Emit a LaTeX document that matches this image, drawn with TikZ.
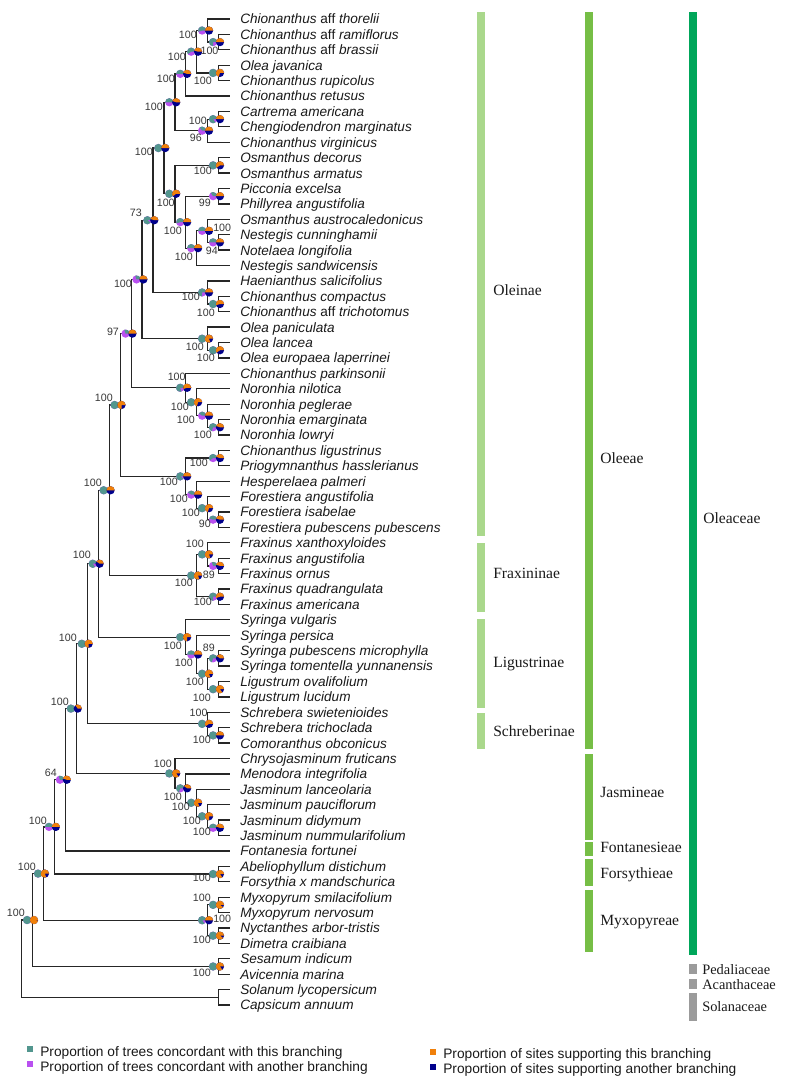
\documentclass[tikz,border=0pt]{standalone}
\usepackage{fontspec}
\setmainfont{Liberation Serif}
\setsansfont{Liberation Sans}
\usetikzlibrary{positioning,calc,backgrounds}

\definecolor{conc}{RGB}{82,150,142}
\definecolor{disc}{RGB}{185,80,240}
\definecolor{site}{RGB}{240,128,10}
\definecolor{nosite}{RGB}{0,0,140}
\definecolor{subtribegreen}{RGB}{170,216,140}
\definecolor{tribegreen}{RGB}{118,190,70}
\definecolor{famgreen}{RGB}{0,166,90}
\definecolor{outgroupgrey}{RGB}{155,155,155}

% one pie: centre, share of first colour, first colour, second colour
\newcommand{\suppie}[4]{%
  \fill[#4] (#1) circle[radius=3.1pt];
  \fill[#3] (#1) -- ++(0:3.1pt) arc[start angle=0, end angle={360*#2}, radius=3.1pt] -- cycle;}
% node name, height, child, child
\newcommand{\cladejoin}[4]{%
  \path let \p1=(#3), \p2=(#4) in coordinate (#1) at ({(229.6-10.94*#2)*0.75pt}, {0.5*(\y1+\y2)});
  \begin{scope}[on background layer]
    \draw[branch] (#1) |- (#3);
    \draw[branch] (#1) |- (#4);
  \end{scope}}
% node name, height, child, child, trees, sites, support, label offset, label options
\newcommand{\clade}[9]{%
  \cladejoin{#1}{#2}{#3}{#4}
  \suppie{$(#1)+(-5.6,0)$}{#5}{conc}{disc}
  \suppie{$(#1)+(1.3,0)$}{#6}{site}{nosite}
  \node[support,#9] (#1l) at ($(#1)+(#8)$) {#7};}
\newcommand{\cladebar}[4]{\fill[#4] (#1,#2) rectangle ({#1+7.5},#3);}

\begin{document}
\begin{tikzpicture}[x=0.75pt, y=-0.75pt,
    branch/.style={line width=0.95pt, draw=black!85},
    tip/.style={anchor=west, inner xsep=7.8pt, inner ysep=0pt, text height=9pt, text depth=1.6pt, font=\sffamily\itshape\fontsize{10.2}{12}\selectfont, text=black!90},
    support/.style={anchor=east, inner sep=0pt, text height=5.7pt, text depth=0pt, font=\sffamily\fontsize{8}{9.5}\selectfont, text=black!78},
    cladelab/.style={anchor=west, inner sep=0pt, text height=7.7pt, text depth=0pt, font=\fontsize{11.7}{14}\selectfont, text=black!90},
    famlab/.style={cladelab, text height=7.1pt, font=\fontsize{10.8}{13}\selectfont},
    legbox/.style={minimum size=5pt, inner sep=0pt},
    legtext/.style={inner sep=0pt, text height=7.4pt, text depth=0pt, font=\sffamily\fontsize{10.3}{12}\selectfont, text=black!90}]
  \useasboundingbox (0,0) rectangle (785,1083);

  % tips
  \foreach \nm [count=\i] in {Chionanthus \textup{aff} thorelii, Chionanthus \textup{aff} ramiflorus,
      Chionanthus \textup{aff} brassii, Olea javanica, Chionanthus rupicolus, Chionanthus retusus,
      Cartrema americana, Chengiodendron marginatus, Chionanthus virginicus, Osmanthus decorus,
      Osmanthus armatus, Picconia excelsa, Phillyrea angustifolia, Osmanthus austrocaledonicus,
      Nestegis cunninghamii, Notelaea longifolia, Nestegis sandwicensis, Haenianthus salicifolius,
      Chionanthus compactus, Chionanthus \textup{aff} trichotomus, Olea paniculata, Olea lancea,
      Olea europaea laperrinei, Chionanthus parkinsonii, Noronhia nilotica, Noronhia peglerae,
      Noronhia emarginata, Noronhia lowryi, Chionanthus ligustrinus, Priogymnanthus hasslerianus,
      Hesperelaea palmeri, Forestiera angustifolia, Forestiera isabelae, Forestiera pubescens pubescens,
      Fraxinus xanthoxyloides, Fraxinus angustifolia, Fraxinus ornus, Fraxinus quadrangulata,
      Fraxinus americana, Syringa vulgaris, Syringa persica, Syringa pubescens microphylla,
      Syringa tomentella yunnanensis, Ligustrum ovalifolium, Ligustrum lucidum, Schrebera swietenioides,
      Schrebera trichoclada, Comoranthus obconicus, Chrysojasminum fruticans, Menodora integrifolia,
      Jasminum lanceolaria, Jasminum pauciflorum, Jasminum didymum, Jasminum nummularifolium,
      Fontanesia fortunei, Abeliophyllum distichum, Forsythia x mandschurica, Myxopyrum smilacifolium,
      Myxopyrum nervosum, Nyctanthes arbor-tristis, Dimetra craibiana, Sesamum indicum,
      Avicennia marina, Solanum lycopersicum, Capsicum annuum}
    \node[tip] (t\i) at (229.6,{19+15.406*(\i-1)}) {\nm};

  % Oleinae
  \clade{a1}{1}{t2}{t3}{.75}{.5}{100}{0,9}{}
  \clade{a2}{2}{t1}{a1}{.55}{.5}{100}{-10.7,4.4}{}
  \clade{a3}{1}{t4}{t5}{1}{.7}{100}{-6.7,8}{}
  \clade{a4}{3}{a2}{a3}{.6}{.45}{100}{-10.8,5.3}{}
  \clade{a5}{4}{a4}{t6}{.5}{.45}{100}{-10.8,5}{}
  \clade{a6}{1}{t7}{t8}{.85}{.5}{100}{-11.7,1.5}{}
  \clade{a7}{2}{a6}{t9}{.35}{.5}{96}{-5.7,7.4}{}
  \clade{a8}{5}{a5}{a7}{.5}{.45}{100}{-11.9,4.7}{}
  \clade{a9}{1}{t10}{t11}{1}{.6}{100}{-6.7,5.6}{}
  \clade{a10}{1}{t12}{t13}{.35}{.5}{99}{-7.7,6.8}{}
  \clade{a11}{1}{t15}{t16}{.5}{.5}{94}{-0.7,8.6}{}
  \clade{a12}{2}{t14}{a11}{.5}{.5}{100}{5.3,-2.9}{anchor=west}
  \clade{a13}{3}{a12}{t17}{.5}{.5}{100}{-3.8,8.8}{}
  \clade{a14}{4}{a10}{a13}{.55}{.5}{100}{-3.8,8.8}{}
  \clade{a15}{5}{a9}{a14}{1}{.6}{100}{0,9.2}{}
  \clade{a16}{6}{a8}{a15}{1}{.5}{100}{-11,4}{}
  \clade{a17}{1}{t19}{t20}{1}{.55}{100}{-3.7,9}{}
  \clade{a18}{2}{t18}{a17}{.75}{.5}{100}{-7.7,4.6}{}
  \clade{a19}{7}{a16}{a18}{.9}{.45}{73}{-11,-7.3}{}
  \clade{a20}{1}{t22}{t23}{1}{.6}{100}{-3.7,7.8}{}
  \clade{a21}{2}{t21}{a20}{1}{.8}{100}{-3.7,8.3}{}
  \clade{a22}{8}{a19}{a21}{.3}{.5}{100}{-10,4.5}{}
  \clade{a23}{1}{t27}{t28}{.7}{.45}{100}{-6.7,7.7}{}
  \clade{a24}{2}{t26}{a23}{.4}{.5}{100}{-12.7,4.3}{}
  \clade{a25}{3}{t25}{a24}{1}{.7}{100}{-7.8,4.8}{}
  \clade{a26}{4}{t24}{a25}{.8}{.55}{100}{0,-10.7}{}
  \clade{a27}{9}{a22}{a26}{.3}{.5}{97}{-12,-1.6}{}
  \clade{a28}{1}{t29}{t30}{.6}{.45}{100}{-10.7,4.9}{}
  \clade{a29}{1}{t33}{t34}{.45}{.45}{90}{-7.7,4.3}{}
  \clade{a30}{2}{t32}{a29}{1}{.7}{100}{-7.7,4.9}{}
  \clade{a31}{3}{t31}{a30}{.4}{.5}{100}{-8.8,4.3}{}
  \clade{a32}{4}{a28}{a31}{.9}{.5}{100}{-7.8,5.6}{}
  \clade{a33}{10}{a27}{a32}{1}{.75}{100}{-7.2,-7}{}
  % Fraxininae
  \clade{a34}{1}{t36}{t37}{.3}{.45}{89}{-3.7,9.1}{}
  \clade{a35}{2}{t35}{a34}{1}{.8}{100}{-3.7,-10.4}{}
  \clade{a36}{1}{t38}{t39}{.75}{.55}{100}{-6.7,5.3}{}
  \clade{a37}{3}{a35}{a36}{1}{.8}{100}{-3.8,7.5}{}
  \clade{a38}{11}{a33}{a37}{1}{.5}{100}{-7.3,-7.3}{}
  % Ligustrinae
  \clade{a39}{1}{t42}{t43}{.7}{.4}{89}{-3.7,-10.3}{}
  \clade{a40}{1}{t44}{t45}{1}{.85}{100}{-7.7,8.9}{}
  \clade{a41}{2}{a39}{a40}{1}{.8}{100}{-3.7,8.3}{}
  \clade{a42}{3}{t41}{a41}{.5}{.5}{100}{-3.8,8.6}{}
  \clade{a43}{4}{t40}{a42}{1}{.75}{100}{-3.8,8.9}{}
  \clade{a44}{12}{a38}{a43}{.85}{.4}{100}{-7.3,-8.7}{}
  % Schreberinae
  \clade{a45}{1}{t47}{t48}{1}{.5}{100}{-7.7,4.6}{}
  \clade{a46}{2}{t46}{a45}{1}{.6}{100}{0,-10.9}{}
  \clade{a47}{13}{a44}{a46}{1}{.75}{100}{-10.4,-5.8}{}
  % Jasmineae and the rest
  \clade{a48}{1}{t53}{t54}{.5}{.45}{100}{-7.7,4.2}{}
  \clade{a49}{2}{t52}{a48}{1}{.75}{100}{-6.7,4.8}{}
  \clade{a50}{3}{t51}{a49}{1}{.8}{100}{-6.8,4.2}{}
  \clade{a51}{4}{t50}{a50}{.7}{.4}{100}{-3.8,8.7}{}
  \clade{a52}{5}{t49}{a51}{1}{.85}{100}{-2.9,-9.4}{}
  \clade{a53}{14}{a47}{a52}{1}{.35}{100}{-7.4,-6.6}{}
  \clade{a54}{15}{a53}{t55}{.3}{.45}{64}{-8.5,-6.8}{}
  \clade{a55}{1}{t56}{t57}{1}{.85}{100}{-7.7,4}{}
  \clade{a56}{16}{a54}{a55}{.5}{.5}{100}{-7.6,-5.9}{}
  \clade{a57}{1}{t58}{t59}{1}{.9}{100}{-7.7,-6.9}{}
  \clade{a58}{1}{t60}{t61}{1}{.9}{100}{-7.7,4.3}{}
  \clade{a59}{2}{a57}{a58}{.85}{.5}{100}{5.3,-1.3}{anchor=west}
  \clade{a60}{17}{a56}{a59}{1}{.8}{100}{-7.6,-6.6}{}
  \clade{a61}{1}{t62}{t63}{1}{.85}{100}{-7.7,6.5}{}
  \clade{a62}{18}{a60}{a61}{1}{.97}{100}{-7.7,-7}{}
  \cladejoin{a63}{1}{t64}{t65}
  \cladejoin{root}{19}{a62}{a63}

  % clade bars
  \cladebar{477}{12}{536}{subtribegreen}
  \cladebar{477}{543}{612}{subtribegreen}
  \cladebar{477}{619}{708}{subtribegreen}
  \cladebar{477}{713}{749}{subtribegreen}
  \cladebar{585}{12}{749}{tribegreen}
  \cladebar{585}{754}{840}{tribegreen}
  \cladebar{585}{842}{856}{tribegreen}
  \cladebar{585}{859}{886}{tribegreen}
  \cladebar{585}{890}{952}{tribegreen}
  \cladebar{689}{12}{955}{famgreen}
  \cladebar{689}{964}{974}{outgroupgrey}
  \cladebar{689}{979}{989}{outgroupgrey}
  \cladebar{689}{993}{1021}{outgroupgrey}
  \node[cladelab] (oleinae) at (493,290) {Oleinae};
  \node[cladelab] (fraxininae) at (493,573) {Fraxininae};
  \node[cladelab] (ligustrinae) at (493,662) {Ligustrinae};
  \node[cladelab] (schreberinae) at (493,731) {Schreberinae};
  \node[cladelab] (oleeae) at (600,458) {Oleeae};
  \node[cladelab] (jasmineae) at (600,792) {Jasmineae};
  \node[cladelab] (fontanesieae) at (600,847) {Fontanesieae};
  \node[cladelab] (forsythieae) at (600,873) {Forsythieae};
  \node[cladelab] (myxopyreae) at (600,920) {Myxopyreae};
  \node[cladelab] (oleaceae) at (703,518) {Oleaceae};
  \node[famlab] (pedaliaceae) at (702,970) {Pedaliaceae};
  \node[famlab] (acanthaceae) at (702,985) {Acanthaceae};
  \node[famlab] (solanaceae) at (702,1007) {Solanaceae};

  % legend
  \node[legbox, fill=conc] (k1) at (30,1049) {};
  \node[legtext, right=4.8pt of k1, yshift=-2pt] (k1t) {Proportion of trees concordant with this branching};
  \node[legbox, fill=disc] (k2) at (30,1064) {};
  \node[legtext, right=4.8pt of k2, yshift=-2pt] (k2t) {Proportion of trees concordant with another branching};
  \node[legbox, fill=site] (k3) at (433,1052) {};
  \node[legtext, right=4.8pt of k3, yshift=-1.5pt] (k3t) {Proportion of sites supporting this branching};
  \node[legbox, fill=nosite] (k4) at (433,1067) {};
  \node[legtext, right=4.8pt of k4, yshift=-1.5pt] (k4t) {Proportion of sites supporting another branching};
\end{tikzpicture}
\end{document}
